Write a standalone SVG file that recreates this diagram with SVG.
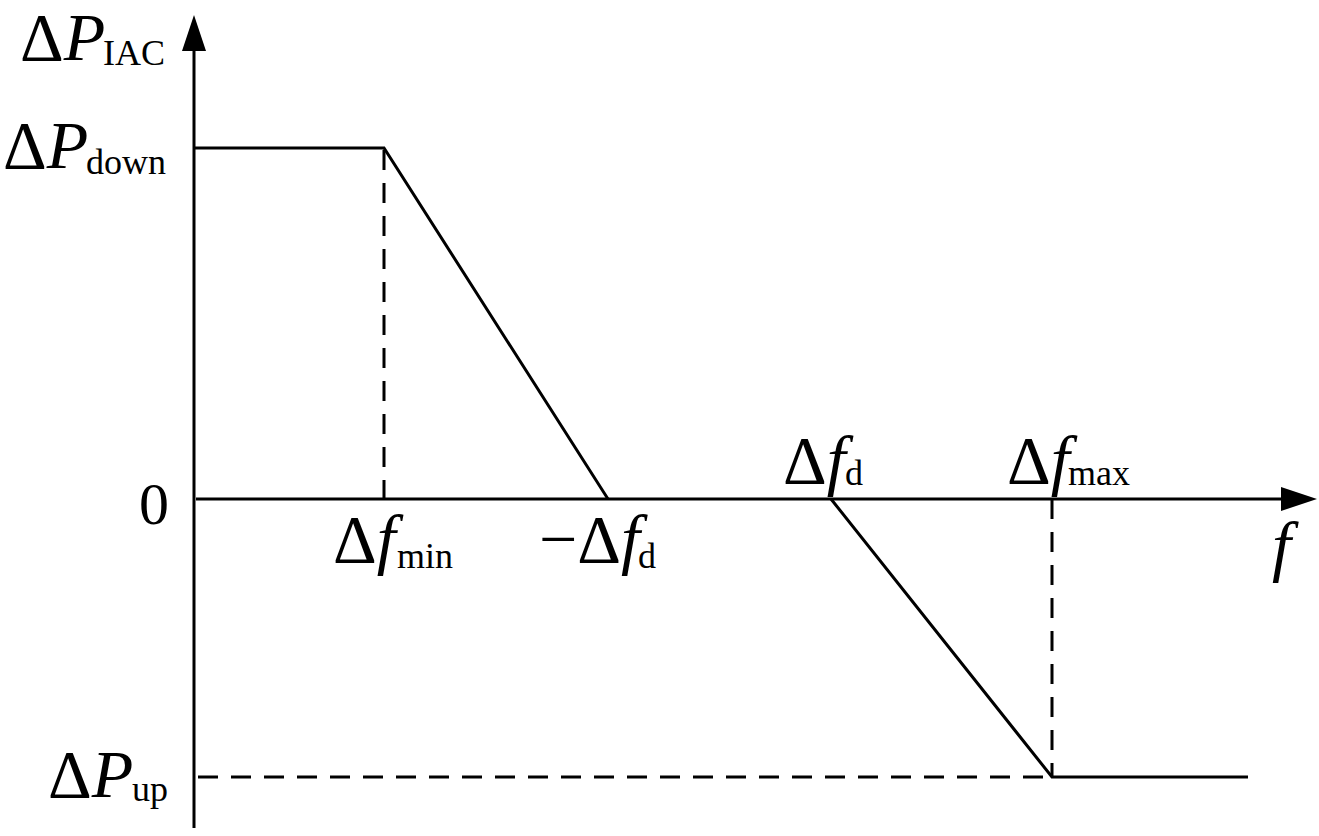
<svg xmlns="http://www.w3.org/2000/svg" width="1319" height="836" viewBox="0 0 1319 836">
<style>
.ln{fill:none;stroke:#000;stroke-width:3}
.dash{fill:none;stroke:#000;stroke-width:3;stroke-dasharray:20 13}
.t{font-family:"Liberation Serif","Times New Roman",serif;font-size:68px;fill:#000}
.i{font-style:italic}
.s{font-size:36px}
</style>
<defs>
<marker id="arr" markerUnits="userSpaceOnUse" markerWidth="36" markerHeight="24" refX="6" refY="12" orient="auto">
<path d="M0,0 L36,12 L0,24 z" fill="#000"/>
</marker>
</defs>
<rect width="1319" height="836" fill="#fff"/>
<g id="connectors">
<line id="y-axis" class="ln" x1="194" y1="828" x2="194" y2="45" marker-end="url(#arr)"/>
<line id="x-axis" class="ln" x1="196" y1="499" x2="1287" y2="499" marker-end="url(#arr)"/>
<polyline id="curve-left" class="ln" points="194,148 384,148 608,499"/>
<polyline id="curve-right" class="ln" points="831,499 1052,777 1248,777"/>
<line class="dash" x1="384" y1="150" x2="384" y2="499"/>
<line class="dash" x1="1052" y1="499" x2="1052" y2="777"/>
<line class="dash" x1="198" y1="777" x2="1052" y2="777"/>
</g>
<g id="label-PIAC"><text class="t" x="20" y="60">Δ<tspan class="i">P</tspan><tspan class="s" x="103" y="65">IAC</tspan></text></g>
<g id="label-Pdown"><text class="t" x="3" y="168">Δ<tspan class="i">P</tspan><tspan class="s" x="86" y="174">down</tspan></text></g>
<g id="label-Pup"><text class="t" x="48" y="797">Δ<tspan class="i">P</tspan><tspan class="s" x="132" y="801">up</tspan></text></g>
<g id="label-zero"><text class="t" x="139" y="524" style="font-size:60px">0</text></g>
<g id="label-fmin"><text class="t" x="333" y="562">Δ<tspan class="i">f</tspan><tspan class="s" x="397" y="568">min</tspan></text></g>
<g id="label-mfd"><text class="t" x="539" y="562">−Δ<tspan class="i">f</tspan><tspan class="s" x="638" y="568">d</tspan></text></g>
<g id="label-fd"><text class="t" x="783" y="483">Δ<tspan class="i">f</tspan><tspan class="s" x="845" y="485">d</tspan></text></g>
<g id="label-fmax"><text class="t" x="1007" y="483">Δ<tspan class="i">f</tspan><tspan class="s" x="1068" y="485">max</tspan></text></g>
<g id="label-f"><text class="t i" x="1272" y="569">f</text></g>
</svg>
